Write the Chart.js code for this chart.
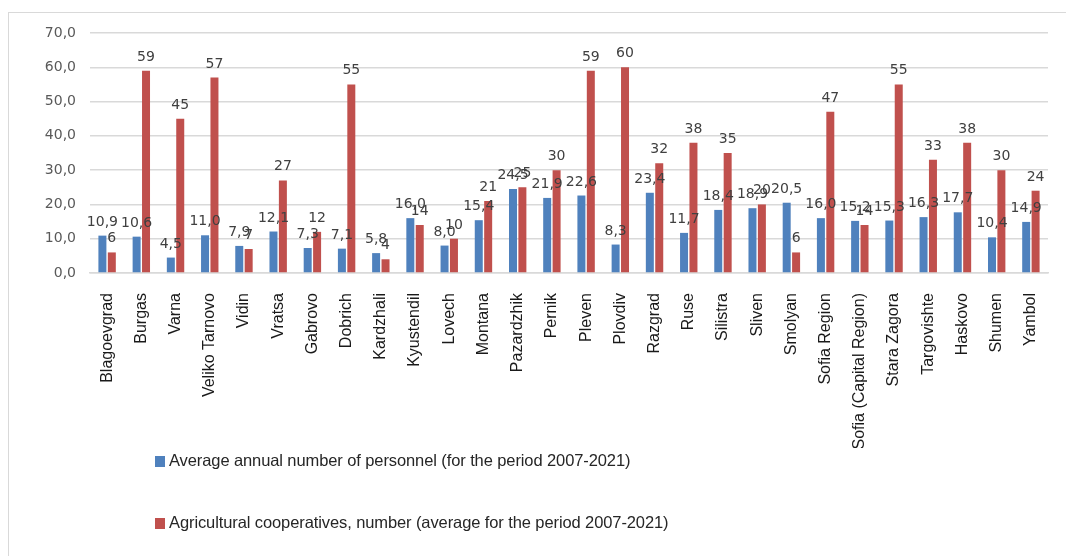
<!DOCTYPE html>
<html>
<head>
<meta charset="utf-8">
<script src="https://cdn.jsdelivr.net/npm/chart.js@4"></script>
<style>
  body { margin: 0; background: #fff; }
  #wrap { position: relative; width: 1066px; height: 556px; overflow: hidden; }
  #frame { position: absolute; left: 8px; top: 12px; width: 1100px; height: 600px;
           border-top: 1.5px solid #d9d9d9; border-left: 1.5px solid #d9d9d9; }
  #myChart { position: absolute; left: 0; top: 0; }
  .legend { position: absolute; left: 155px; top: 449px; font-family: "Liberation Sans", Arial, sans-serif;
            font-size: 16.5px; letter-spacing: -0.1px; color: #262626; }
  .legend .item { height: 22px; line-height: 22px; margin-bottom: 40px; white-space: nowrap; }
  .legend .box { display: inline-block; width: 10px; height: 11px; margin-right: 4px; vertical-align: -1px; }
</style>
</head>
<body>
<div id="wrap">
  <div id="frame"></div>
  <canvas id="myChart" width="1066" height="556"></canvas>
  <div class="legend" id="legend"></div>
</div>
<script>
// regions, in the order shown on the axis
const regions = ['Blagoevgrad', 'Burgas', 'Varna', 'Veliko Tarnovo', 'Vidin', 'Vratsa', 'Gabrovo',
  'Dobrich', 'Kardzhali', 'Kyustendil', 'Lovech', 'Montana', 'Pazardzhik', 'Pernik', 'Pleven',
  'Plovdiv', 'Razgrad', 'Ruse', 'Silistra', 'Sliven', 'Smolyan', 'Sofia Region',
  'Sofia (Capital Region)', 'Stara Zagora', 'Targovishte', 'Haskovo', 'Shumen', 'Yambol'];

// average annual number of personnel
const personnel = [10.9, 10.6, 4.5, 11.0, 7.9, 12.1, 7.3, 7.1, 5.8, 16.0, 8.0, 15.4, 24.5, 21.9,
  22.6, 8.3, 23.4, 11.7, 18.4, 18.9, 20.5, 16.0, 15.2, 15.3, 16.3, 17.7, 10.4, 14.9];

// number of agricultural cooperatives
const cooperatives = [6, 59, 45, 57, 7, 27, 12, 55, 4, 14, 10, 21, 25, 30,
  59, 60, 32, 38, 35, 20, 6, 47, 14, 55, 33, 38, 30, 24];

const seriesNames = [
  'Average annual number of personnel (for the period 2007-2021)',
  'Agricultural cooperatives, number (average for the period 2007-2021)'
];
const seriesColors = ['#4f81bd', '#c0504d'];

const yTicks = [0, 10, 20, 30, 40, 50, 60, 70];

function comma1(v) {
  return v.toFixed(1).replace('.', ',');
}

// value labels above every bar
const valueLabels = {
  id: 'valueLabels',
  afterDatasetsDraw(chart) {
    const ctx = chart.ctx;
    ctx.save();
    ctx.font = '14px "DejaVu Sans"';
    ctx.fillStyle = '#404040';
    ctx.textAlign = 'center';
    ctx.textBaseline = 'alphabetic';
    chart.data.datasets.forEach((ds, i) => {
      const meta = chart.getDatasetMeta(i);
      meta.data.forEach((bar, j) => {
        const v = ds.data[j];
        const text = i === 0 ? comma1(v) : String(v);
        ctx.fillText(text, bar.x, bar.y - 10);
      });
    });
    ctx.restore();
  }
};

Chart.defaults.font.family = '"Liberation Sans", Arial, sans-serif';

const ctx = document.getElementById('myChart').getContext('2d');
const myChart = new Chart(ctx, {
  type: 'bar',
  data: {
    labels: regions,
    datasets: [{
      label: seriesNames[0],
      data: personnel,
      backgroundColor: seriesColors[0],
      categoryPercentage: 0.55,
      barPercentage: 0.85
    }, {
      label: seriesNames[1],
      data: cooperatives,
      backgroundColor: seriesColors[1],
      categoryPercentage: 0.55,
      barPercentage: 0.85
    }]
  },
  options: {
    responsive: false,
    animation: false,
    layout: { padding: { top: 33, left: 0, right: 18, bottom: 108 } },
    plugins: {
      legend: { display: false },
      tooltip: { enabled: false }
    },
    scales: {
      x: {
        grid: { display: false },
        border: { color: '#d9d9d9', width: 1.5 },
        ticks: {
          minRotation: 90,
          maxRotation: 90,
          autoSkip: false,
          padding: 12,
          color: '#1a1a1a',
          font: { size: 16 }
        },
        afterFit(scale) { scale.height = 175; }
      },
      y: {
        min: 0,
        max: 70,
        border: { display: false },
        grid: { color: '#d9d9d9', lineWidth: 1.5, drawTicks: false },
        afterBuildTicks(scale) { scale.ticks = yTicks.map(v => ({ value: v })); },
        ticks: {
          padding: 14,
          color: '#595959',
          font: { family: '"DejaVu Sans"', size: 14 },
          callback: v => comma1(v)
        },
        afterFit(scale) { scale.width = 90; }
      }
    }
  },
  plugins: [valueLabels]
});

// legend, one series per row
const legend = document.getElementById('legend');
seriesNames.forEach((name, i) => {
  const item = document.createElement('div');
  item.className = 'item';
  const box = document.createElement('span');
  box.className = 'box';
  box.style.background = seriesColors[i];
  item.appendChild(box);
  item.appendChild(document.createTextNode(name));
  legend.appendChild(item);
});
</script>
</body>
</html>
